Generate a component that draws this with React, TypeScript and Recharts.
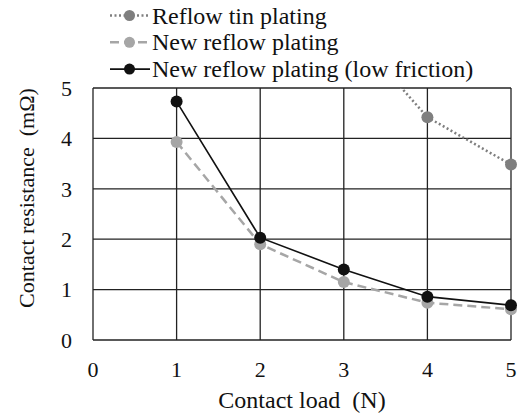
import { LineChart, Line, XAxis, YAxis, CartesianGrid } from 'recharts'

// contact load (N)
const loads = [1, 2, 3, 4, 5]
// contact resistance (mΩ)
const reflowTin = [null, null, 6.3, 4.42, 3.48]
const newReflow = [3.93, 1.9, 1.15, 0.74, 0.61]
const newReflowLowFriction = [4.73, 2.03, 1.4, 0.86, 0.69]

const xTicks = [0, 1, 2, 3, 4, 5]
const yTicks = [0, 1, 2, 3, 4, 5]

const seriesNames = ['Reflow tin plating', 'New reflow plating', 'New reflow plating (low friction)']

const series = [
  { key: 'tin', name: seriesNames[0], color: '#7f7f7f', dash: '2 2.5', width: 2.5 },
  { key: 'reflow', name: seriesNames[1], color: '#a6a6a6', dash: '9 5', width: 2.5 },
  { key: 'lowFriction', name: seriesNames[2], color: '#111111', dash: undefined, width: 1.6 },
]

const data = loads.map((load, i) => ({
  load,
  tin: reflowTin[i],
  reflow: newReflow[i],
  lowFriction: newReflowLowFriction[i],
}))

const FONT = 'Liberation Serif'

function Legend() {
  return (
    <svg width={523} height={84} style={{ position: 'absolute', left: 0, top: 0, fontFamily: FONT }}>
      {series.map((s, i) => {
        const y = 15.5 + i * 26.8
        return (
          <g key={s.key}>
            <line x1={110} x2={150} y1={y} y2={y} stroke={s.color} strokeWidth={s.width} strokeDasharray={s.dash} />
            <circle cx={129.5} cy={y} r={5.5} fill={s.color} />
            <text x={152} y={y + 8} style={{ fontFamily: FONT }} fontSize={24} fill="#111">
              {s.name}
            </text>
          </g>
        )
      })}
    </svg>
  )
}

export default function App() {
  return (
    <div style={{ position: 'absolute', left: 0, top: 0, width: 523, height: 416, background: '#fff', fontFamily: FONT }}>
      <LineChart
        width={523}
        height={416}
        data={data}
        margin={{ top: 88, right: 12, left: 0, bottom: 0 }}
        style={{ fontFamily: FONT }}
      >
        <CartesianGrid stroke="#222" strokeWidth={1.3} />
        <XAxis
          dataKey="load"
          type="number"
          domain={[0, 5]}
          ticks={xTicks}
          axisLine={false}
          tickLine={false}
          height={76}
          tickMargin={15}
          tick={{ fill: '#111', fontSize: 22, style: { fontFamily: FONT } }}
          label={({ viewBox }: any) => (
            <text
              x={viewBox.x + viewBox.width / 2}
              y={408}
              textAnchor="middle"
              fontSize={24}
              fill="#111"
              style={{ whiteSpace: 'pre', fontFamily: FONT }}
            >
              {'Contact load  (N)'}
            </text>
          )}
        />
        <YAxis
          type="number"
          domain={[0, 5]}
          ticks={yTicks}
          allowDataOverflow
          axisLine={false}
          tickLine={false}
          width={93}
          tickMargin={15}
          tick={{ fill: '#111', fontSize: 22, style: { fontFamily: FONT } }}
          label={() => (
            <text
              x={34}
              y={198}
              transform="rotate(-90 34 198)"
              textAnchor="middle"
              fontSize={22}
              fill="#111"
              style={{ whiteSpace: 'pre', fontFamily: FONT }}
            >
              {'Contact resistance  (mΩ)'}
            </text>
          )}
        />
        {series.map((s) => (
          <Line
            key={s.key}
            dataKey={s.key}
            name={s.name}
            type="linear"
            stroke={s.color}
            strokeWidth={s.width}
            strokeDasharray={s.dash}
            dot={{ r: 6, fill: s.color, stroke: s.color, strokeWidth: 0 }}
            activeDot={false}
            isAnimationActive={false}
          />
        ))}
      </LineChart>
      <Legend />
    </div>
  )
}
